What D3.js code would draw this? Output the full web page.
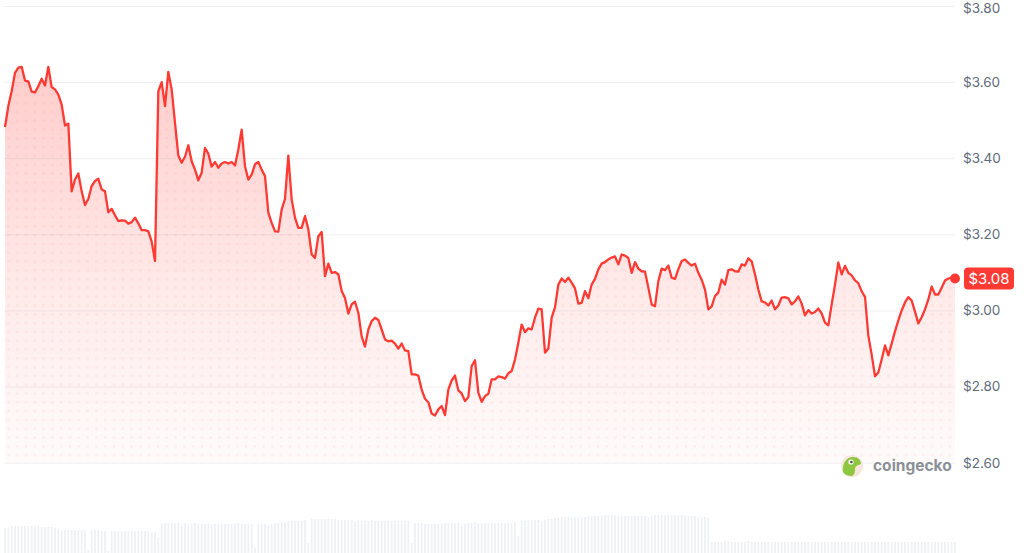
<!DOCTYPE html>
<html>
<head>
<meta charset="utf-8">
<script src="https://cdn.jsdelivr.net/npm/d3@7/dist/d3.min.js"></script>
<style>
  html, body { margin: 0; padding: 0; background: #ffffff; }
  svg { display: block; }
  .tick text { font-family: Inter, "Noto Sans", sans-serif; }
</style>
</head>
<body>
<svg id="chart" width="1024" height="553"></svg>
<script>
// ---- DATA ----
const prices = [
  3.482,3.537,3.576,3.624,3.638,3.640,3.604,3.602,3.575,3.573,
  3.589,3.609,3.591,3.640,3.587,3.581,3.567,3.541,3.486,3.491,
  3.313,3.344,3.360,3.313,3.277,3.293,3.327,3.340,3.346,3.318,
  3.313,3.258,3.267,3.250,3.235,3.237,3.236,3.228,3.232,3.244,
  3.229,3.211,3.211,3.208,3.181,3.130,3.576,3.600,3.537,3.627,
  3.581,3.493,3.407,3.388,3.404,3.434,3.392,3.370,3.342,3.362,
  3.427,3.412,3.378,3.390,3.375,3.386,3.390,3.386,3.390,3.381,
  3.423,3.475,3.379,3.344,3.357,3.384,3.390,3.370,3.353,3.257,
  3.230,3.208,3.207,3.265,3.293,3.407,3.292,3.244,3.217,3.217,
  3.248,3.213,3.147,3.138,3.195,3.206,3.090,3.123,3.099,3.101,
  3.095,3.051,3.033,2.992,3.016,3.023,2.994,2.932,2.905,2.950,
  2.972,2.981,2.975,2.950,2.924,2.919,2.921,2.913,2.900,2.913,
  2.895,2.893,2.832,2.832,2.829,2.792,2.768,2.759,2.729,2.724,
  2.740,2.749,2.725,2.792,2.816,2.829,2.790,2.782,2.762,2.772,
  2.854,2.869,2.784,2.760,2.775,2.781,2.819,2.819,2.827,2.825,
  2.821,2.835,2.841,2.871,2.915,2.963,2.943,2.953,2.950,2.981,
  3.005,3.003,2.889,2.900,2.981,3.008,3.068,3.084,3.075,3.086,
  3.073,3.058,3.018,3.020,3.051,3.032,3.068,3.083,3.108,3.123,
  3.127,3.134,3.139,3.142,3.121,3.147,3.144,3.138,3.099,3.127,
  3.110,3.103,3.102,3.060,3.016,3.011,3.077,3.110,3.106,3.118,
  3.086,3.083,3.108,3.130,3.134,3.125,3.118,3.123,3.099,3.081,
  3.055,3.003,3.011,3.038,3.047,3.081,3.068,3.106,3.108,3.103,
  3.102,3.121,3.118,3.137,3.129,3.095,3.055,3.024,3.021,3.013,
  3.026,3.003,3.013,3.034,3.035,3.032,3.016,3.024,3.037,3.018,
  2.987,3.001,2.992,2.996,3.005,2.992,2.968,2.961,3.016,3.068,
  3.126,3.095,3.117,3.099,3.092,3.079,3.072,3.050,3.036,2.934,
  2.884,2.827,2.837,2.871,2.908,2.882,2.913,2.945,2.974,3.000,
  3.021,3.035,3.026,2.997,2.966,2.982,3.003,3.029,3.063,3.042,
  3.042,3.060,3.079,3.084,3.086,3.084
];

// trading volume per sample (millions, approximate)
const volumes = [
  25,26,27,27,27,27,27,27,27,26,27,26,26,26,26,
  25,24,
  23,23,23,23,23,23,23,23,
  3,
  23,23,23,22,22,
  2,
  22,22,22,22,22,22,22,22,22,22,22,22,21,21,
  15,
  29,30,30,30,30,30,29,30,29,29,30,29,
  29,29,30,29,29,29,29,29,29,29,29,30,29,29,30,29,
  5,
  29,29,29,
  28,29,30,30,31,31,
  32,32,32,32,32,33,
  10,
  34,34,34,34,34,34,34,34,33,33,33,33,33,
  31,32,32,32,32,33,32,32,32,32,32,32,32,32,
  32,32,32,
  10,
  30,30,30,29,29,29,29,
  29,29,30,30,30,30,30,29,29,30,30,31,30,30,30,30,30,30,30,30,30,30,30,31,
  17,
  32,32,33,33,33,33,32,33,34,
  34,35,35,36,36,36,36,36,36,36,36,
  37,37,37,37,37,38,38,38,38,
  37,37,37,37,37,37,37,37,37,36,37,
  38,38,38,38,38,38,38,38,38,37,37,
  37,37,36,36,36,35,
  11,11,11,11,12,12,11,11,11,11,11,12,11,11,11,11,11,11,11,11,11,11,11,11,11,11,11,
  11,11,11,11,11,11,11,11,11,11,11,11,11,11,11,11,11,11,11,11,11,11,11,11,
  11,11,11,11,11,11,11,11,11,11,11,11,11,11,11,11,11,11,11,11,11,11,11
];

const priceTicks = [2.6, 2.8, 3.0, 3.2, 3.4, 3.6, 3.8];
const brandName = "coingecko";

// ---- CHART ----
const svg = d3.select("#chart");
const red = "#ff3a33";

const x = d3.scaleLinear().domain([0, prices.length - 1]).range([5, 955]);
const y = d3.scaleLinear().domain([2.6, 3.8]).range([462.7, 6]);
const yVol = d3.scaleLinear().domain([0, 50]).range([553, 503]);

const defs = svg.append("defs");
const grad = defs.append("linearGradient")
  .attr("id", "areaGrad")
  .attr("gradientUnits", "userSpaceOnUse")
  .attr("x1", 0).attr("x2", 0)
  .attr("y1", y(3.66)).attr("y2", y(2.6));
grad.append("stop").attr("offset", 0).attr("stop-color", red).attr("stop-opacity", 0.26);
grad.append("stop").attr("offset", 0.6).attr("stop-color", red).attr("stop-opacity", 0.1);
grad.append("stop").attr("offset", 1).attr("stop-color", red).attr("stop-opacity", 0.02);

const pat = defs.append("pattern")
  .attr("id", "dots")
  .attr("patternUnits", "userSpaceOnUse")
  .attr("x", 4).attr("y", 2)
  .attr("width", 8.8).attr("height", 8.8);
pat.append("circle").attr("cx", 4.4).attr("cy", 4.4).attr("r", 1.4)
  .attr("fill", red).attr("fill-opacity", 0.07);

// volume bars
svg.append("g").selectAll("rect")
  .data(volumes.slice(0, prices.length))
  .join("rect")
  .attr("x", (d, i) => x(i) - 0.85)
  .attr("width", 1.7)
  .attr("y", d => yVol(d))
  .attr("height", d => yVol(0) - yVol(d))
  .attr("fill", "#eef0f3");

// gridlines + labels
const axis = d3.axisRight(y)
  .tickValues(priceTicks)
  .tickFormat(d => "$" + d.toFixed(2))
  .tickSize(-951)
  .tickPadding(8);
const gAxis = svg.append("g").attr("transform", "translate(955,0)").call(axis);
gAxis.select(".domain").remove();
gAxis.selectAll(".tick line").attr("stroke", "#eff0f2").attr("stroke-width", 1);
gAxis.selectAll(".tick text")
  .attr("fill", "#5f6b7c")
  .attr("font-size", 13.5)
  .attr("dy", d => d === 3.8 ? "0.45em" : "0.32em");

// area
const area = d3.area()
  .x((d, i) => x(i))
  .y0(y(2.6))
  .y1(d => y(d));
svg.append("path").datum(prices).attr("d", area).attr("fill", "url(#areaGrad)");
svg.append("path").datum(prices).attr("d", area).attr("fill", "url(#dots)");

// line
const line = d3.line().x((d, i) => x(i)).y(d => y(d));
svg.append("path").datum(prices)
  .attr("d", line)
  .attr("fill", "none")
  .attr("stroke", red)
  .attr("stroke-width", 2.3)
  .attr("stroke-linejoin", "round");

// end marker
const last = prices[prices.length - 1];
const lx = x(prices.length - 1), ly = y(last);
svg.append("circle").attr("cx", lx).attr("cy", ly).attr("r", 5).attr("fill", red);
const lbl = svg.append("g").attr("transform", `translate(${lx + 9},${ly})`);
lbl.append("rect").attr("x", 0).attr("y", -11).attr("width", 50).attr("height", 22)
  .attr("rx", 4).attr("fill", red);
lbl.append("text").attr("x", 25).attr("y", 0).attr("dy", "0.36em")
  .attr("text-anchor", "middle")
  .attr("fill", "#ffffff")
  .attr("font-family", "Inter, 'Noto Sans', sans-serif")
  .attr("font-size", 15)
  .text("$" + last.toFixed(2));

// watermark logo
const logo = svg.append("g").attr("transform", "translate(852,466)");
logo.append("circle").attr("r", 11).attr("fill", "#f6e6dc");
logo.append("path")
  .attr("d", "M-9,6 C-10,-2 -6,-9 1,-9 C6,-9 9,-6 9,-2 C6,-1 3,0 3,3 C3,7 2,9 0,10 C-4,10 -7,9 -9,6 Z")
  .attr("fill", "#8dc63f");
logo.append("circle").attr("cx", -1).attr("cy", -4).attr("r", 2.6).attr("fill", "#ffffff");
logo.append("circle").attr("cx", -0.6).attr("cy", -4).attr("r", 1.3).attr("fill", "#4a4a4a");
svg.append("text")
  .attr("x", 873).attr("y", 466).attr("dy", "0.35em")
  .attr("font-family", "Inter, 'Noto Sans', sans-serif")
  .attr("font-weight", 700)
  .attr("font-size", 15.5)
  .attr("fill", "#8b8f96")
  .text(brandName);
</script>
</body>
</html>
